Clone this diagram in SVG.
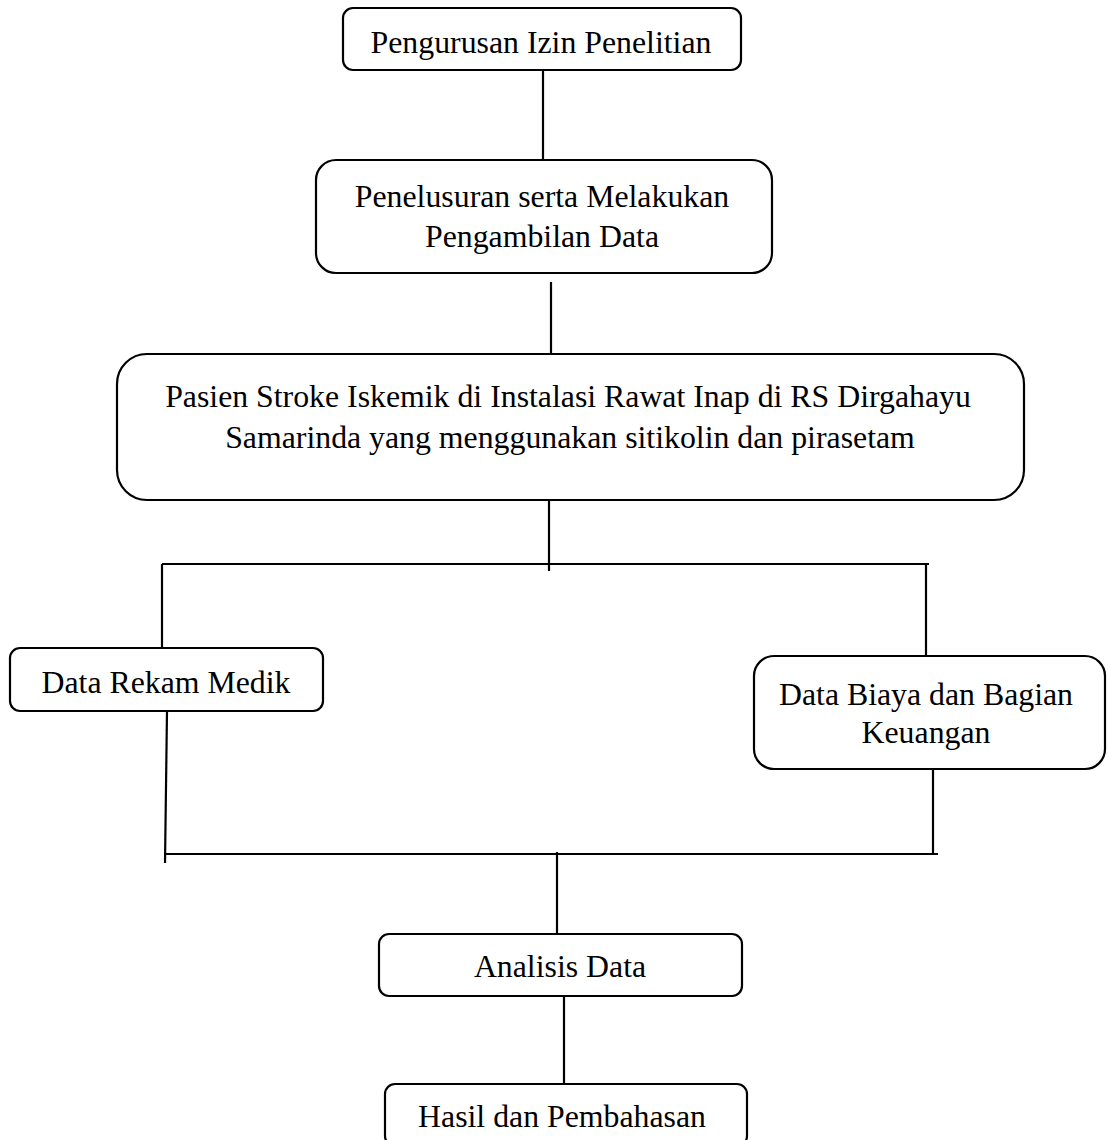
<svg xmlns="http://www.w3.org/2000/svg" width="1108" height="1140" viewBox="0 0 1108 1140">
<style>
.box{fill:#fff;stroke:#000;stroke-width:2.2}
.t{font-family:"Liberation Serif","Times New Roman",serif;font-size:31.8px;fill:#000;text-anchor:middle}
.c line, .c polyline{stroke:#000;stroke-width:2.2;fill:none}
</style>
<rect width="1108" height="1140" fill="#fff"/>
<g class="c" id="connectors">
<line x1="543" y1="70" x2="543" y2="159"/>
<line x1="551" y1="282" x2="551" y2="354"/>
<line x1="549" y1="495" x2="549" y2="571"/>
<line x1="162" y1="564" x2="929" y2="564"/>
<line x1="162" y1="564" x2="162" y2="648"/>
<line x1="926" y1="564" x2="926" y2="656"/>
<line x1="167" y1="711" x2="165" y2="863"/>
<line x1="165" y1="854" x2="938" y2="854"/>
<line x1="933" y1="768" x2="933" y2="853"/>
<line x1="557" y1="852" x2="557" y2="934"/>
<line x1="564" y1="993" x2="564" y2="1084"/>
</g>
<g id="n1"><rect class="box" x="343" y="8" width="398" height="62" rx="10"/><text class="t" x="541" y="53">Pengurusan Izin Penelitian</text></g>
<g id="n2"><rect class="box" x="316" y="160" width="456" height="113" rx="20"/><text class="t" x="542" y="207">Penelusuran serta Melakukan</text><text class="t" x="542" y="247">Pengambilan Data</text></g>
<g id="n3"><rect class="box" x="117" y="354" width="907" height="146" rx="30"/><text class="t" x="568" y="407">Pasien Stroke Iskemik di Instalasi Rawat Inap di RS Dirgahayu</text><text class="t" x="570" y="448">Samarinda yang menggunakan sitikolin dan pirasetam</text></g>
<g id="n4"><rect class="box" x="10" y="648" width="313" height="63" rx="10"/><text class="t" x="166" y="693">Data Rekam Medik</text></g>
<g id="n5"><rect class="box" x="754" y="656" width="351" height="113" rx="20"/><text class="t" x="926" y="705">Data Biaya dan Bagian</text><text class="t" x="926" y="743">Keuangan</text></g>
<g id="n6"><rect class="box" x="379" y="934" width="363" height="62" rx="10"/><text class="t" x="560" y="977">Analisis Data</text></g>
<g id="n7"><rect class="box" x="385" y="1084" width="362" height="62" rx="10"/><text class="t" x="562" y="1127">Hasil dan Pembahasan</text></g>
</svg>
